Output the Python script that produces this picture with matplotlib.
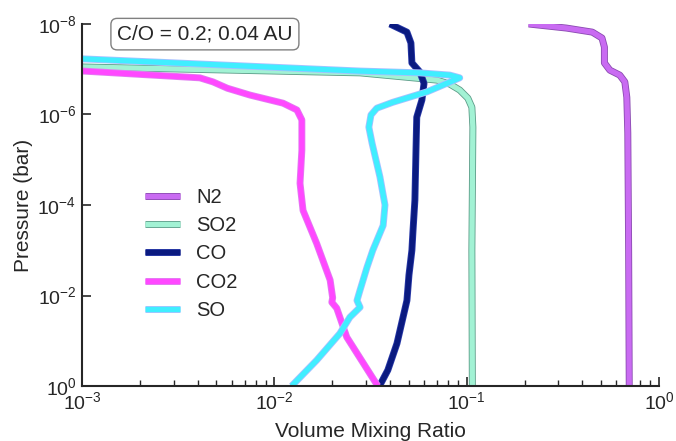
import numpy as np
import matplotlib
matplotlib.use('Agg')
import matplotlib.pyplot as plt
import matplotlib.patheffects as pe
from matplotlib.ticker import LogLocator, NullLocator

plt.rcParams['font.family'] = ['Liberation Sans', 'DejaVu Sans']
plt.rcParams['mathtext.fontset'] = 'custom'
plt.rcParams['mathtext.rm'] = 'Liberation Sans'
plt.rcParams['mathtext.it'] = 'Liberation Sans:italic'
plt.rcParams['text.color'] = '.15'
plt.rcParams['axes.labelcolor'] = '.15'
plt.rcParams['xtick.color'] = '.15'
plt.rcParams['ytick.color'] = '.15'

# profiles: log10(pressure / bar) and mixing ratio
logp_n2 = [-8.0, -7.91, -7.82, -7.69, -7.49, -7.14, -6.98, -6.87, -6.72, -6.38, -5.59, -3.0, 0.0]
vmr_n2 = [0.21, 0.33, 0.45, 0.505, 0.52, 0.52, 0.555, 0.625, 0.664, 0.68, 0.688, 0.695, 0.70]

logp_so2 = [-7.15, -7.05, -6.92, -6.76, -6.67, -6.54, -6.36, -6.16, -5.72, -3.0, 0.0]
vmr_so2 = [1e-4, 0.001, 0.0279, 0.070, 0.0818, 0.092, 0.1014, 0.1064, 0.1077, 0.1064, 0.1070]

logp_co = [-8.0, -7.82, -7.58, -7.14, -6.94, -6.69, -6.32, -5.94, -5.21, -4.11, -3.38, -3.0, -2.45, -1.89,
           -0.94, -0.35, 0.0]
vmr_co = [0.0399, 0.0489, 0.0513, 0.0519, 0.0571, 0.060, 0.0585, 0.055, 0.0545, 0.0538, 0.0525, 0.0519,
          0.0501, 0.0489, 0.0434, 0.0389, 0.0352]

logp_co2 = [-7.2, -6.96, -6.81, -6.72, -6.58, -6.43, -6.25, -6.10, -5.88, -5.21, -4.48, -3.88, -3.15, -2.34,
            -1.95, -1.85, -1.72, -1.08, 0.0]
vmr_co2 = [1e-4, 0.00101, 0.0041, 0.0048, 0.0057, 0.00746, 0.0111, 0.0131, 0.0139, 0.0139, 0.0136, 0.0141,
           0.0166, 0.0195, 0.0201, 0.0199, 0.0211, 0.0238, 0.0345]

logp_so = [-7.40, -7.23, -6.96, -6.92, -6.87, -6.81, -6.50, -6.27, -6.14, -5.99, -5.72, -5.37, -4.62,
           -4.0, -3.55, -3.0, -2.62, -2.12, -1.89, -1.74, -1.52, -1.16, -0.57, 0.0]
vmr_so = [1e-4, 0.001, 0.0279, 0.0571, 0.0818, 0.092, 0.0621, 0.0413, 0.0341, 0.0318, 0.031, 0.0322,
          0.0354, 0.0376, 0.0368, 0.0325, 0.0303, 0.0279, 0.0269, 0.0279, 0.0247, 0.0219, 0.0166, 0.0123]

species = ['N2', 'SO2', 'CO', 'CO2', 'SO']
profiles = [(vmr_n2, logp_n2), (vmr_so2, logp_so2), (vmr_co, logp_co), (vmr_co2, logp_co2), (vmr_so, logp_so)]
colors = ['#c96bf2', '#a2f2d4', '#0a1a80', '#ff48ff', '#40eeff']
edges = ['#8a4bb0', '#5c9c88', '#2a3aa8', '#e080f0', '#a8c0ff']

fig = plt.figure(figsize=(6.76, 4.41), dpi=100)
ax = fig.add_axes([0.1213, 0.1247, 0.8536, 0.8209])

for name, (v, lp), c, ec in zip(species, profiles, colors, edges):
    ax.plot(v, 10 ** np.array(lp), color=c, lw=3.8, label=name, solid_joinstyle='round',
            solid_capstyle='butt',
            path_effects=[pe.Stroke(linewidth=5.0, foreground=ec), pe.Normal()])

ax.set_xscale('log')
ax.set_yscale('log')
ax.set_xlim(1e-3, 1e0)
ax.set_ylim(1e0, 1e-8)
ax.set_yticks([1e-8, 1e-6, 1e-4, 1e-2, 1e0])
ax.yaxis.set_minor_locator(NullLocator())
ax.xaxis.set_minor_locator(LogLocator(base=10, subs=np.arange(2, 10)))

for s in ['top', 'right']:
    ax.spines[s].set_visible(False)
for s in ['left', 'bottom']:
    ax.spines[s].set_linewidth(1.5)
    ax.spines[s].set_color('.15')

ax.tick_params(which='major', direction='in', length=6.5, width=1.2, labelsize=14, pad=4)
ax.tick_params(which='minor', direction='in', length=4, width=1.0)

ax.set_xlabel('Volume Mixing Ratio', fontsize=15, labelpad=6)
ax.set_ylabel('Pressure (bar)', fontsize=15, labelpad=3)

ax.text(0.213, 0.972, 'C/O = 0.2; 0.04 AU', transform=ax.transAxes, fontsize=15,
        ha='center', va='center',
        bbox=dict(boxstyle='round,pad=0.3', fc='white', ec='gray', lw=1))

ax.legend(loc='upper left', bbox_to_anchor=(0.078, 0.596), frameon=False, fontsize=14.5,
          handlelength=1.75, labelspacing=0.45)

fig.savefig('out.png', dpi=100)
